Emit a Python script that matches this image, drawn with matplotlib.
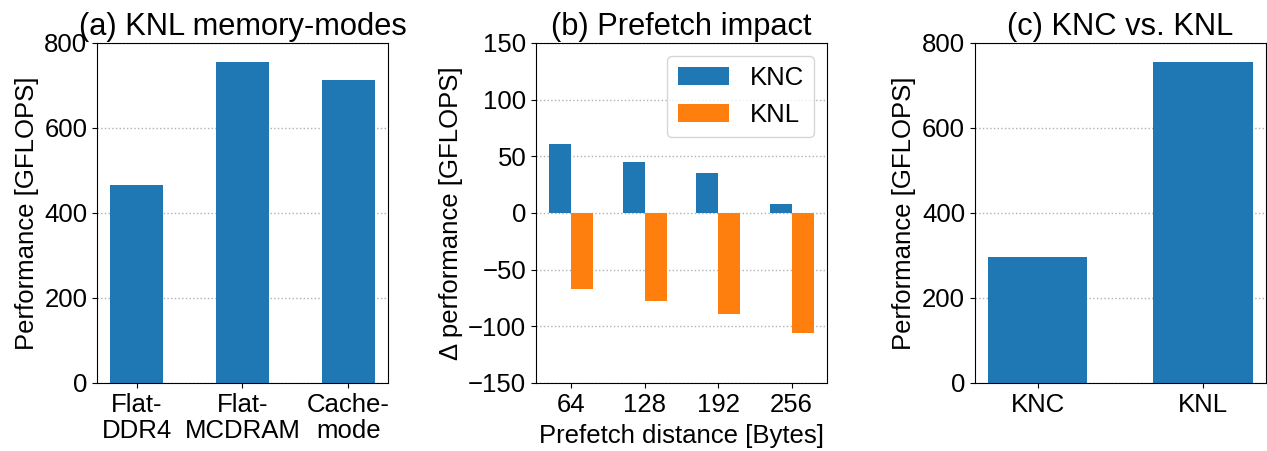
import numpy as np
import matplotlib
matplotlib.use('Agg')
import matplotlib.pyplot as plt

# -------------------------------------------------------------------------------------------------------------------- #
# DATA

modes = ['Flat-\nDDR4', 'Flat-\nMCDRAM', 'Cache-\nmode']
modes_perf = [466, 755, 713]

distances = ['64', '128', '192', '256']
knc_delta = [61, 45, 35, 8]
knl_delta = [-67, -78, -89, -106]

archs = ['KNC', 'KNL']
archs_perf = [296, 755]

# -------------------------------------------------------------------------------------------------------------------- #
# PLOT

plt.rcParams['font.family'] = ['Liberation Sans', 'DejaVu Sans']
plt.rcParams['font.size'] = 18.5

blue = '#1f77b4'
orange = '#ff7f0e'

fig, axes = plt.subplots(1, 3, figsize=(12.67, 4.51), dpi=100)
fig.subplots_adjust(left=0.0766, right=0.999, bottom=0.151, top=0.905, wspace=0.509)

ax = axes[0]
x = np.arange(len(modes))
ax.bar(x, modes_perf, width=0.5, color=blue)
ax.set_xticks(x)
ax.set_xticklabels(modes, linespacing=1.15)
ax.set_ylim(0, 800)
ax.set_yticks([0, 200, 400, 600, 800])
ax.set_ylabel('Performance [GFLOPS]')
ax.set_title('(a) KNL memory-modes')

ax = axes[1]
x = np.arange(len(distances))
ax.bar(x - 0.15, knc_delta, width=0.3, color=blue, label='KNC')
ax.bar(x + 0.15, knl_delta, width=0.3, color=orange, label='KNL')
ax.set_xticks(x)
ax.set_xticklabels(distances)
ax.set_ylim(-150, 150)
ax.set_yticks([-150, -100, -50, 0, 50, 100, 150])
ax.set_ylabel('\u0394 performance [GFLOPS]')
ax.set_xlabel('Prefetch distance [Bytes]', labelpad=5)
ax.set_title('(b) Prefetch impact')
ax.legend(loc='upper right')

ax = axes[2]
x = np.arange(len(archs))
ax.bar(x, archs_perf, width=0.6, color=blue)
ax.set_xticks(x)
ax.set_xticklabels(archs)
ax.set_ylim(0, 800)
ax.set_yticks([0, 200, 400, 600, 800])
ax.set_ylabel('Performance [GFLOPS]')
ax.set_title('(c) KNC vs. KNL')

for ax in axes:
    ax.yaxis.grid(True, linestyle=':', color='#b0b0b0', linewidth=1)
    ax.set_axisbelow(True)

fig.savefig('out.png', dpi=100)
